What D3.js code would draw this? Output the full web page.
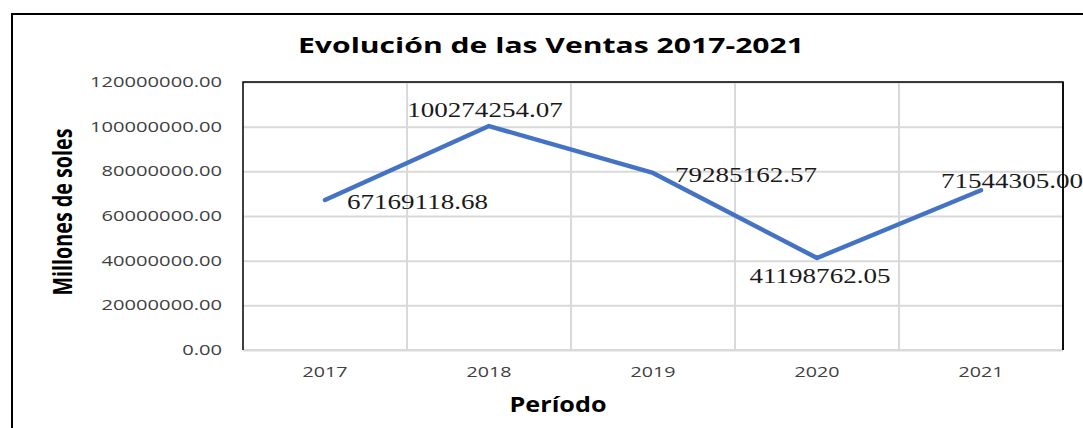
<!DOCTYPE html>
<html>
<head>
<meta charset="utf-8">
<script src="https://cdn.jsdelivr.net/npm/d3@7"></script>
<style>
  body { margin: 0; background: #fff; }
  svg { display: block; }
</style>
</head>
<body>
<svg id="chart" width="1083" height="428"></svg>
<script>
// datos
var years = ["2017", "2018", "2019", "2020", "2021"];
var ventas = [67169118.68, 100274254.07, 79285162.57, 41198762.05, 71544305.00];
var yTicks = [0, 20000000, 40000000, 60000000, 80000000, 100000000, 120000000];
var labelPos = ["right", "above", "right", "below", "aboveRight"];

var dataset = years.map(function(d, i) {
    return { year: d, value: ventas[i], pos: labelPos[i] };
});

var plot = { left: 243, top: 82, width: 820, height: 268 };

var svg = d3.select("#chart");

// stretch text horizontally (the reference is a wide screenshot)
var stretch = function(sel, k) {
    sel.each(function() {
        var w = this.getComputedTextLength();
        d3.select(this).attr("textLength", w * k).attr("lengthAdjust", "spacingAndGlyphs");
    });
};
var fitTo = function(sel, refText, target) {
    var probe = sel.filter(function() { return d3.select(this).text() == refText; }).node();
    var k = target / probe.getComputedTextLength();
    stretch(sel, k);
};

// marco exterior
svg.append("rect")
    .attr("x", 12).attr("y", 14)
    .attr("width", 1200).attr("height", 600)
    .attr("fill", "none")
    .attr("stroke", "#000")
    .attr("stroke-width", 2);

var xScaled = d3.scaleBand()
    .domain(years)
    .range([0, plot.width]);

var yScaled = d3.scaleLinear()
    .domain([0, 120000000])
    .range([plot.height, 0]);

var g = svg.append("g")
    .attr("transform", "translate(" + plot.left + "," + plot.top + ")");

// horizontal grid
g.append("g")
    .attr("class", "grid")
    .call(d3.axisLeft(yScaled).tickValues(yTicks).tickSize(-plot.width).tickFormat(""))
    .call(function(s) { s.select(".domain").remove(); })
    .selectAll("line")
    .attr("stroke", "#d9d9d9")
    .attr("stroke-width", 2);

// vertical grid between categories
g.append("g")
    .selectAll("line")
    .data(years.slice(1))
    .enter()
    .append("line")
    .attr("x1", function(d) { return xScaled(d); })
    .attr("x2", function(d) { return xScaled(d); })
    .attr("y1", 0)
    .attr("y2", plot.height)
    .attr("stroke", "#d9d9d9")
    .attr("stroke-width", 2);

// y axis labels
var yAxis = g.append("g")
    .call(d3.axisLeft(yScaled).tickValues(yTicks).tickSize(0).tickPadding(21)
        .tickFormat(function(d) { return d.toFixed(2); }));
yAxis.select(".domain").remove();
yAxis.selectAll("text")
    .attr("font-family", "'Open Sans', sans-serif")
    .attr("font-size", 14)
    .attr("fill", "#404040");
fitTo(yAxis.selectAll("text"), "120000000.00", 132);

// x axis labels
var xAxis = g.append("g")
    .attr("transform", "translate(0," + plot.height + ")")
    .call(d3.axisBottom(xScaled).tickSize(0).tickPadding(16));
xAxis.select(".domain").remove();
xAxis.selectAll("text")
    .attr("font-family", "'Open Sans', sans-serif")
    .attr("font-size", 15)
    .attr("fill", "#404040");
fitTo(xAxis.selectAll("text"), "2017", 45);

// bottom axis line + plot border
g.append("line")
    .attr("x1", 0).attr("x2", plot.width)
    .attr("y1", plot.height).attr("y2", plot.height)
    .attr("stroke", "#d9d9d9").attr("stroke-width", 2);
g.append("path")
    .attr("d", "M0," + plot.height + "V0H" + plot.width + "V" + plot.height)
    .attr("fill", "none")
    .attr("stroke", "#000")
    .attr("stroke-width", 1.5);

// line
var line = d3.line()
    .x(function(d) { return xScaled(d.year) + xScaled.bandwidth() / 2; })
    .y(function(d) { return yScaled(d.value); });

g.append("path")
    .datum(dataset)
    .attr("d", line)
    .attr("fill", "none")
    .attr("stroke", "#4472c4")
    .attr("stroke-width", 4.5)
    .attr("stroke-linejoin", "round")
    .attr("stroke-linecap", "round");

// data labels
var offsets = {
    right: { dx: 22, dy: 1, anchor: "start" },
    above: { dx: -4, dy: -17, anchor: "middle" },
    below: { dx: 3, dy: 17, anchor: "middle" },
    aboveRight: { dx: 31, dy: -10, anchor: "middle" }
};
var labels = g.append("g")
    .selectAll("text")
    .data(dataset)
    .enter()
    .append("text")
    .attr("x", function(d) { return xScaled(d.year) + xScaled.bandwidth() / 2 + offsets[d.pos].dx; })
    .attr("y", function(d) { return yScaled(d.value) + offsets[d.pos].dy; })
    .attr("dy", "0.35em")
    .attr("text-anchor", function(d) { return offsets[d.pos].anchor; })
    .attr("font-family", "'Liberation Serif', 'Times New Roman', serif")
    .attr("font-size", 22)
    .attr("fill", "#1a1a1a")
    .text(function(d) { return d.value.toFixed(2); });
fitTo(labels, "67169118.68", 141);

// redraw right border over last label (as in reference)
g.append("line")
    .attr("x1", plot.width).attr("x2", plot.width)
    .attr("y1", 0).attr("y2", plot.height)
    .attr("stroke", "#000").attr("stroke-width", 1.5);

// titles
var title = svg.append("text")
    .attr("x", 551).attr("y", 53)
    .attr("text-anchor", "middle")
    .attr("font-family", "'Open Sans', sans-serif")
    .attr("font-weight", 700)
    .attr("font-size", 21)
    .attr("fill", "#000")
    .text("Evolución de las Ventas 2017-2021");
fitTo(title, "Evolución de las Ventas 2017-2021", 506);

var xTitle = svg.append("text")
    .attr("x", 558).attr("y", 412)
    .attr("text-anchor", "middle")
    .attr("font-family", "'Open Sans', sans-serif")
    .attr("font-weight", 700)
    .attr("font-size", 21)
    .attr("fill", "#000")
    .text("Período");
fitTo(xTitle, "Período", 97);

var yTitle = svg.append("text")
    .attr("transform", "translate(72,212) rotate(-90)")
    .attr("text-anchor", "middle")
    .attr("font-family", "'Liberation Sans Narrow', 'Open Sans', sans-serif")
    .attr("font-weight", 700)
    .attr("font-size", 27)
    .attr("fill", "#000")
    .text("Millones de soles");
fitTo(yTitle, "Millones de soles", 167);
</script>
</body>
</html>
